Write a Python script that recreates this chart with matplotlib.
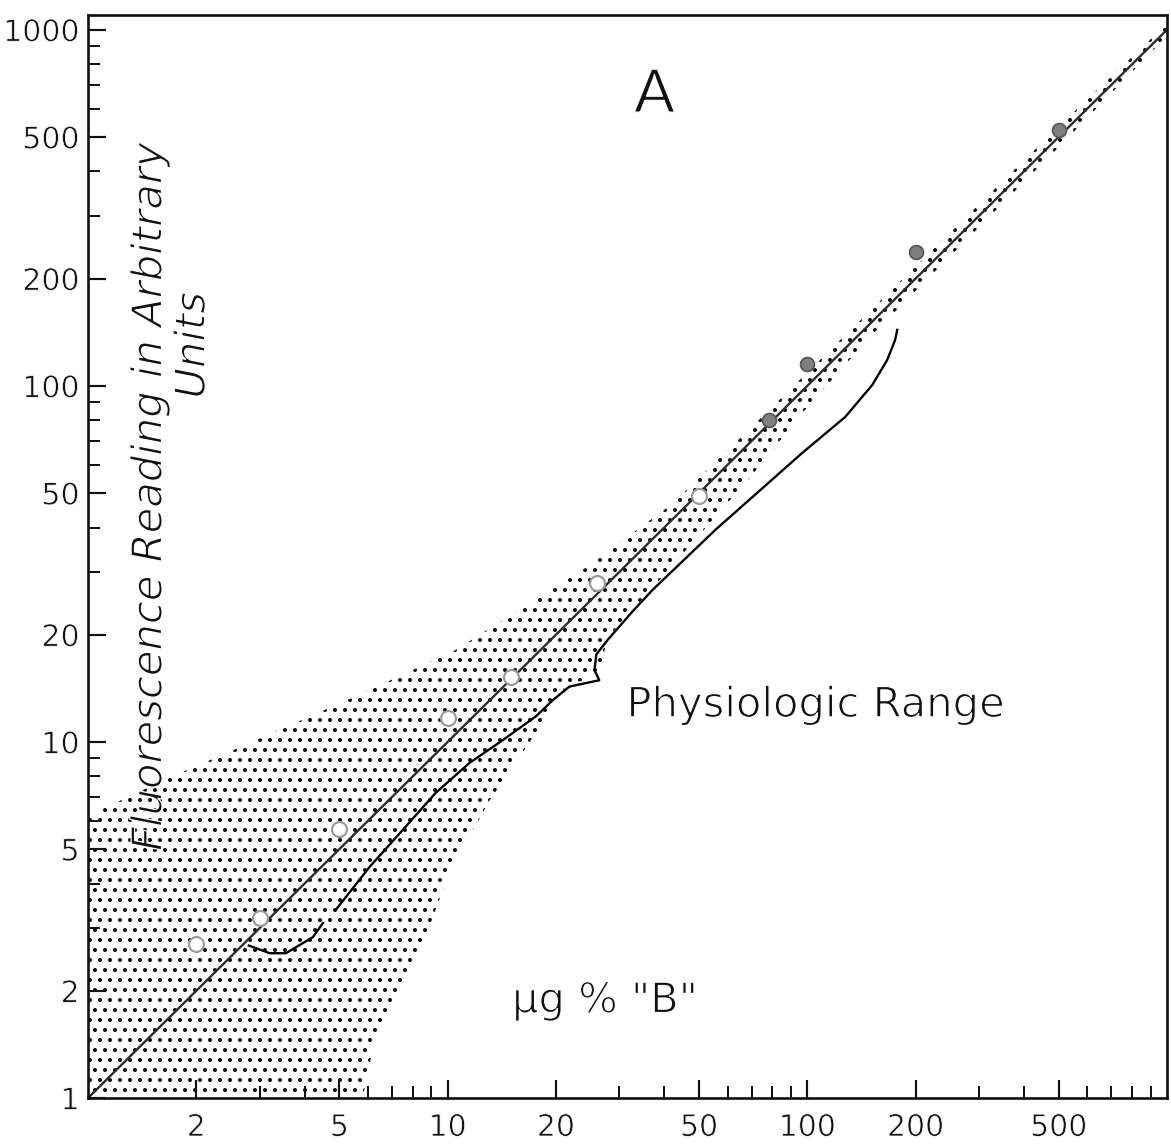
import matplotlib.pyplot as plt
import matplotlib.patheffects as pe
import numpy as np

plt.rcParams['font.family'] = ['DejaVu Sans']
plt.rcParams['hatch.linewidth'] = 1.2

# readings taken off the original graph
conc = [2, 3, 5, 10, 15, 26, 50, 78, 100, 200, 500]
reading = [2.7, 3.2, 5.7, 11.7, 15.2, 28, 49, 80, 115, 237, 524]
n_open = 7  # first points are drawn as open circles, the rest filled

fit_x = [1, 1000]
fit_y = [1, 1000]

# stippled band, upper and lower edge
band_up_x = [1, 1.62, 3.06, 5.8, 10.5, 23.7, 42, 75, 150, 500, 1000]
band_up_y = [6.2, 7.8, 10.3, 13.7, 18.1, 30.4, 46.5, 82, 163, 535, 1040]
band_lo_x = [5.8, 6.27, 7.3, 8.36, 10.1, 13.1, 17.6, 21.3, 26.4, 27.8, 32.6, 37.1, 55.5, 69, 97, 150, 500, 1000]
band_lo_y = [1.0, 1.46, 2.0, 2.55, 4.29, 6.87, 10.6, 14.3, 15.5, 19.6, 23.5, 27.0, 42.9, 55, 84, 138, 468, 960]

# brace marking the physiologic range
brace_x = [2.8, 3.2, 3.55, 4.22, 4.5, np.nan, 4.88, 6.07, 7.5, 9.26, 11.5, 14.2, 17.6, 19.6, 21.8, 26.4,
           25.6, 25.9, 27.8, 32.6, 37.1, 55.5, 96.8, 127.5, 151.6, 166.8, 175.5, 177.8]
brace_y = [2.68, 2.55, 2.55, 2.83, 3.1, np.nan, 3.37, 4.46, 5.66, 7.19, 8.73, 10.1, 11.8, 13.1, 14.3, 14.9,
           15.9, 17.6, 19.3, 23.2, 26.7, 39.4, 64.8, 81.8, 100.6, 118.3, 134.7, 143.6]

x_major = [2, 5, 10, 20, 50, 100, 200, 500]
x_labels = ['2', '5', '10', '20', '50', '100', '200', '500']
x_minor = [3, 4, 6, 7, 8, 9, 30, 40, 60, 70, 80, 90, 300, 400, 600, 700, 800, 900]
y_major = [1, 2, 5, 10, 20, 50, 100, 200, 500, 1000]
y_labels = ['1', '2', '5', '10', '20', '50', '100', '200', '500', '1000']

dpi = 120
fig = plt.figure(figsize=(1171 / dpi, 1147 / dpi), dpi=dpi)
ax = fig.add_axes([88 / 1171, 49 / 1147, 1079 / 1171, 1083 / 1147])
ax.set_xscale('log')
ax.set_yscale('log')
ax.set_xlim(1, 1000)
ax.set_ylim(1, 1100)

poly_x = band_up_x + band_lo_x[::-1] + [1]
poly_y = band_up_y + band_lo_y[::-1] + [1]
ax.fill(poly_x, poly_y, facecolor='none', edgecolor='#111111', linewidth=0, hatch='..')

ax.plot(fit_x, fit_y, color='#2a2a2a', lw=1.4)
ax.plot(brace_x, brace_y, color='black', lw=1.4)

ax.scatter(conc[:n_open], reading[:n_open], s=80, facecolors='white', edgecolors='#9a9a9a', linewidths=1.3, zorder=3)
ax.scatter(conc[n_open:], reading[n_open:], s=70, facecolors='#7f7f7f', edgecolors='#555555', linewidths=1.0, zorder=3)

ax.set_xticks(x_major, labels=x_labels)
ax.set_xticks(x_minor, minor=True, labels=[])
y_minor = [m * d for d in [1, 10, 100] for m in range(2, 10) if m * d not in y_major]
ax.set_yticks(y_major, labels=y_labels)
ax.set_yticks(y_minor, minor=True, labels=[])

ax.tick_params(which='both', direction='in', labelsize=18, colors='#111111')
ax.tick_params(which='major', length=11, width=1.3)
ax.tick_params(which='minor', length=7, width=1.2)
ax.tick_params(axis='x', pad=9)
ax.tick_params(axis='y', pad=5)
for s in ax.spines.values():
    s.set_linewidth(1.6)
    s.set_color('#111111')

# the printed lettering is thin, so trim the glyph outlines a little
thin = [pe.Stroke(linewidth=0.75, foreground='white')]
for lab in ax.get_xticklabels() + ax.get_yticklabels():
    lab.set_path_effects([pe.Stroke(linewidth=0.45, foreground='white')])

ax.text(0.525, 0.926, 'A', transform=ax.transAxes, fontsize=36, ha='center', va='center',
        color='#111111', family='Lato', path_effects=thin)
ax.text(0.674, 0.363, 'Physiologic Range', transform=ax.transAxes, fontsize=25, ha='center', va='center',
        color='#111111', path_effects=thin)
ax.text(0.479, 0.09, 'µg % "B"', transform=ax.transAxes, fontsize=25, ha='center', va='center',
        color='#111111', path_effects=thin)
ax.text(0.057, 0.555, 'Fluorescence Reading in Arbitrary', transform=ax.transAxes, fontsize=25,
        rotation=90, style='italic', ha='center', va='center', color='#111111', path_effects=thin)
ax.text(0.097, 0.695, 'Units', transform=ax.transAxes, fontsize=25,
        rotation=90, style='italic', ha='center', va='center', color='#111111', path_effects=thin)

fig.savefig('out.png', dpi=dpi)
